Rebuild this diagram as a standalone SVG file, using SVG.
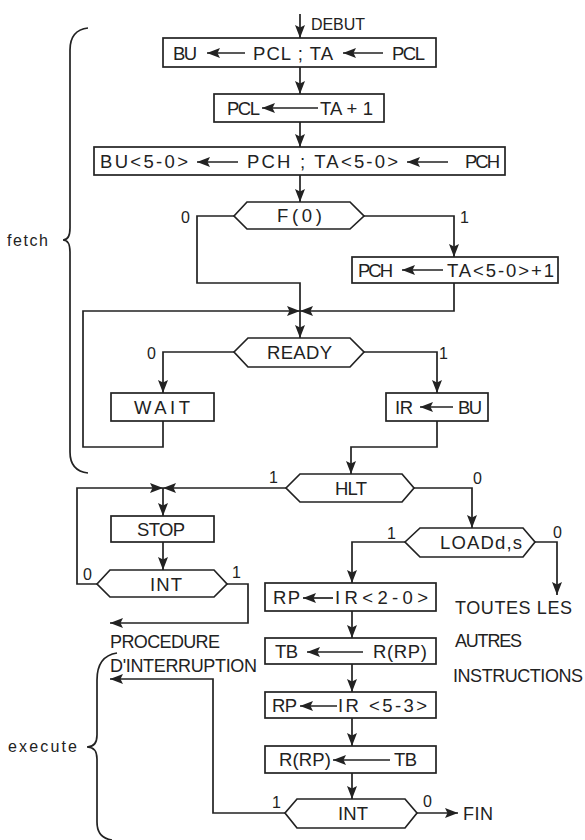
<svg xmlns="http://www.w3.org/2000/svg" width="585" height="840" viewBox="0 0 585 840">
<defs>
<marker id="ah" markerUnits="userSpaceOnUse" markerWidth="14" markerHeight="10" refX="13" refY="5" orient="auto">
<path d="M0,0 L13,5 L0,10 L2.5,5 Z" fill="#222"/>
</marker>
<style>
.n rect,.n polygon{fill:#fff;stroke:#222;stroke-width:1.7}
text{font-family:"Liberation Sans",Arial,sans-serif;font-size:18.5px;fill:#222}
.lb{font-size:16px}
.big{font-size:18px}
.c path,.c line,.a{fill:none;stroke:#222;stroke-width:1.7}
.a{marker-end:url(#ah)}
.br{fill:none;stroke:#222;stroke-width:1.7}
</style>
</defs>
<rect width="585" height="840" fill="#fff"/>

<g id="connectors" class="c">
<path class="a" d="M300,14 L300,38"/>
<path class="a" d="M300,67 L300,94"/>
<path class="a" d="M300,122 L300,147"/>
<path class="a" d="M300,175 L300,202"/>
<path d="M234,216 L197,216 L197,283 L300,283 L300,311"/>
<path class="a" d="M300,311 L300,338"/>
<path class="a" d="M364,216 L454,216 L454,257"/>
<path class="a" d="M454,283 L454,311 L300,311"/>
<path class="a" d="M163,421 L163,447 L83,447 L83,311 L300,311"/>
<path class="a" d="M234,352 L163,352 L163,393"/>
<path class="a" d="M364,352 L437,352 L437,393"/>
<path class="a" d="M437,421 L437,447 L351,447 L351,474"/>
<path class="a" d="M286,488 L163,488"/>
<path class="a" d="M97,584 L77,584 L77,488 L163,488"/>
<path class="a" d="M163,488 L163,516"/>
<path class="a" d="M163,542 L163,570"/>
<path class="a" d="M227,584 L248,584 L248,623 L110,623"/>
<path class="a" d="M414,488 L472,488 L472,528"/>
<path class="a" d="M405,542 L352,542 L352,583"/>
<path class="a" d="M535,542 L557,542 L557,595"/>
<path class="a" d="M352,611 L352,638"/>
<path class="a" d="M352,664 L352,692"/>
<path class="a" d="M352,718 L352,746"/>
<path class="a" d="M352,773 L352,799"/>
<path class="a" d="M417,813 L458,813"/>
<path class="a" d="M285,813 L213,813 L213,679 L110,679"/>
</g>

<g id="labels">
<text x="311" y="30" class="lb" textLength="54">DEBUT</text>
<text x="181" y="223" class="lb">0</text>
<text x="460" y="223" class="lb">1</text>
<text x="147" y="359" class="lb">0</text>
<text x="439" y="359" class="lb">1</text>
<text x="269" y="483" class="lb">1</text>
<text x="473" y="484" class="lb">0</text>
<text x="387" y="539" class="lb">1</text>
<text x="553" y="538" class="lb">0</text>
<text x="83" y="580" class="lb">0</text>
<text x="232" y="578" class="lb">1</text>
<text x="272" y="808" class="lb">1</text>
<text x="423" y="807" class="lb">0</text>
<text x="463" y="820" class="big" textLength="30">FIN</text>
<text x="110" y="648" class="big" textLength="110">PROCEDURE</text>
<text x="110" y="672" class="big" textLength="147">D'INTERRUPTION</text>
<text x="455" y="614" class="big" textLength="117">TOUTES LES</text>
<text x="455" y="647" class="big" textLength="67">AUTRES</text>
<text x="453" y="682" class="big" textLength="130">INSTRUCTIONS</text>
<text x="7" y="246" class="lb" textLength="41">fetch</text>
<text x="8" y="752" class="lb" textLength="69">execute</text>
</g>

<g id="braces">
<path class="br" d="M88,28 Q70,30 70,50 L70,228 Q70,240 63,240 Q70,240 70,252 L70,452 Q70,471 88,473"/>
<path class="br" d="M117,653 Q97,656 97,680 L97,735 Q97,747 87,747 Q97,747 97,759 L97,822 Q97,838 112,840"/>
</g>

<g id="n1" class="n">
<rect x="163" y="38" width="273" height="29"/>
<text x="173" y="60" textLength="24">BU</text>
<line class="a" x1="245" y1="53" x2="207" y2="53"/>
<text x="253" y="60" textLength="80">PCL ; TA</text>
<line class="a" x1="383" y1="53" x2="343" y2="53"/>
<text x="392" y="60" textLength="33">PCL</text>
</g>

<g id="n2" class="n">
<rect x="214" y="94" width="170" height="28"/>
<text x="227" y="115" textLength="33">PCL</text>
<line class="a" x1="318" y1="108" x2="262" y2="108"/>
<text x="320" y="115" textLength="53">TA + 1</text>
</g>

<g id="n3" class="n">
<rect x="94" y="147" width="411" height="28"/>
<text x="100" y="168" textLength="88">BU&lt;5-0&gt;</text>
<line class="a" x1="238" y1="162" x2="197" y2="162"/>
<text x="247" y="168" textLength="151">PCH ; TA&lt;5-0&gt;</text>
<line class="a" x1="448" y1="162" x2="407" y2="162"/>
<text x="465" y="168" textLength="35">PCH</text>
</g>

<g id="f0" class="n">
<polygon points="234,216 247,202 350,202 364,216 350,229 247,229"/>
<text x="277" y="222" textLength="45">F(0)</text>
</g>

<g id="n4" class="n">
<rect x="352" y="257" width="206" height="26"/>
<text x="358" y="277" textLength="35">PCH</text>
<line class="a" x1="443" y1="270" x2="402" y2="270"/>
<text x="447" y="277" textLength="107">TA&lt;5-0&gt;+1</text>
</g>

<g id="ready" class="n">
<polygon points="234,352 248,338 350,338 364,352 350,367 248,367"/>
<text x="267" y="359" textLength="65">READY</text>
</g>

<g id="wait" class="n">
<rect x="111" y="393" width="103" height="28"/>
<text x="134" y="414" textLength="56">WAIT</text>
</g>

<g id="ir" class="n">
<rect x="386" y="393" width="102" height="28"/>
<text x="395" y="414" textLength="18">IR</text>
<line class="a" x1="453" y1="407" x2="420" y2="407"/>
<text x="458" y="414" textLength="24">BU</text>
</g>

<g id="hlt" class="n">
<polygon points="286,488 300,474 402,474 414,488 402,502 300,502"/>
<text x="335" y="495" textLength="32">HLT</text>
</g>

<g id="stop" class="n">
<rect x="111" y="516" width="103" height="26"/>
<text x="137" y="536" textLength="48">STOP</text>
</g>

<g id="int1" class="n">
<polygon points="97,584 110,570 214,570 227,584 214,597 110,597"/>
<text x="150" y="591" textLength="32">INT</text>
</g>

<g id="load" class="n">
<polygon points="405,542 420,528 523,528 535,542 523,557 420,557"/>
<text x="440" y="549" textLength="82">LOADd,s</text>
</g>

<g id="rp1" class="n">
<rect x="265" y="583" width="171" height="28"/>
<text x="273" y="604" textLength="27">RP</text>
<line class="a" x1="333" y1="598" x2="303" y2="598"/>
<text x="335" y="604" textLength="93">IR&lt;2-0&gt;</text>
</g>

<g id="tb" class="n">
<rect x="265" y="638" width="171" height="26"/>
<text x="275" y="658" textLength="23">TB</text>
<line class="a" x1="363" y1="652" x2="307" y2="652"/>
<text x="373" y="658" textLength="54">R(RP)</text>
</g>

<g id="rp2" class="n">
<rect x="265" y="692" width="171" height="26"/>
<text x="272" y="712" textLength="25">RP</text>
<line class="a" x1="337" y1="706" x2="300" y2="706"/>
<text x="338" y="712" textLength="89">IR &lt;5-3&gt;</text>
</g>

<g id="rrp" class="n">
<rect x="265" y="746" width="171" height="27"/>
<text x="279" y="766" textLength="52">R(RP)</text>
<line class="a" x1="390" y1="760" x2="333" y2="760"/>
<text x="394" y="766" textLength="23">TB</text>
</g>

<g id="int2" class="n">
<polygon points="285,813 297,799 405,799 417,813 405,828 297,828"/>
<text x="338" y="820" textLength="30">INT</text>
</g>
</svg>
